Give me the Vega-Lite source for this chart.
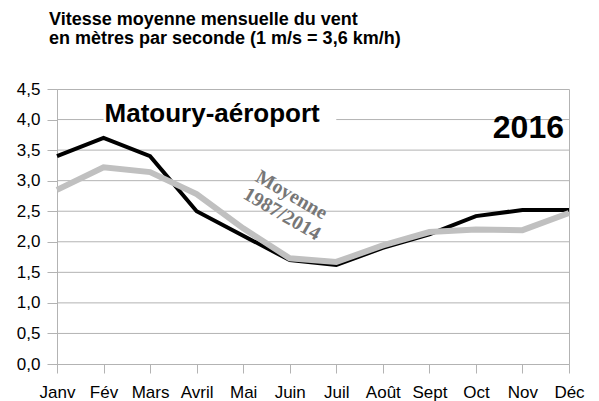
{
  "$schema": "https://vega.github.io/schema/vega-lite/v6.json",
  "width": 512,
  "height": 275,
  "autosize": "none",
  "padding": {"left": 57, "top": 89, "right": 30, "bottom": 37},
  "background": "white",
  "config": {
    "view": {"stroke": "#b3b3b3", "strokeWidth": 1},
    "font": "Liberation Sans",
    "axisX": {
      "labelAngle": 0, "labelFontSize": 17, "labelColor": "black", "labelFont": "Liberation Sans",
      "tickSize": 9, "tickColor": "#b3b3b3", "domainColor": "#b3b3b3", "labelPadding": 11, "grid": false,
      "labelOverlap": false, "title": null
    },
    "axisY": {
      "tickCount": 10,
      "labelOverlap": false,
      "labelExpr": "replace(format(datum.value, '.1f'), '.', ',')",
      "labelFontSize": 17, "labelColor": "black", "labelFont": "Liberation Sans",
      "tickSize": 10, "tickColor": "#b3b3b3", "domainColor": "#b3b3b3", "labelPadding": 7,
      "grid": false, "title": null
    }
  },
  "title": {
    "text": ["Vitesse moyenne mensuelle du vent", "en mètres par seconde (1 m/s = 3,6 km/h)"],
    "anchor": "start", "frame": "group", "dx": -8, "offset": 32,
    "fontSize": 18, "fontWeight": "bold", "font": "Liberation Sans", "color": "black", "lineHeight": 19
  },
  "datasets": {
    "wind": [
      {"mois": "Janv", "serie": "2016", "vitesse": 3.4},
      {"mois": "Fév", "serie": "2016", "vitesse": 3.7},
      {"mois": "Mars", "serie": "2016", "vitesse": 3.4},
      {"mois": "Avril", "serie": "2016", "vitesse": 2.5},
      {"mois": "Mai", "serie": "2016", "vitesse": 2.1},
      {"mois": "Juin", "serie": "2016", "vitesse": 1.7},
      {"mois": "Juil", "serie": "2016", "vitesse": 1.62},
      {"mois": "Août", "serie": "2016", "vitesse": 1.9},
      {"mois": "Sept", "serie": "2016", "vitesse": 2.12},
      {"mois": "Oct", "serie": "2016", "vitesse": 2.42},
      {"mois": "Nov", "serie": "2016", "vitesse": 2.52},
      {"mois": "Déc", "serie": "2016", "vitesse": 2.52},
      {"mois": "Janv", "serie": "Moyenne 1987/2014", "vitesse": 2.85},
      {"mois": "Fév", "serie": "Moyenne 1987/2014", "vitesse": 3.22},
      {"mois": "Mars", "serie": "Moyenne 1987/2014", "vitesse": 3.14},
      {"mois": "Avril", "serie": "Moyenne 1987/2014", "vitesse": 2.78},
      {"mois": "Mai", "serie": "Moyenne 1987/2014", "vitesse": 2.22},
      {"mois": "Juin", "serie": "Moyenne 1987/2014", "vitesse": 1.73},
      {"mois": "Juil", "serie": "Moyenne 1987/2014", "vitesse": 1.67},
      {"mois": "Août", "serie": "Moyenne 1987/2014", "vitesse": 1.94},
      {"mois": "Sept", "serie": "Moyenne 1987/2014", "vitesse": 2.16},
      {"mois": "Oct", "serie": "Moyenne 1987/2014", "vitesse": 2.2},
      {"mois": "Nov", "serie": "Moyenne 1987/2014", "vitesse": 2.19},
      {"mois": "Déc", "serie": "Moyenne 1987/2014", "vitesse": 2.47}
    ],
    "grille": [
      {"niveau": 0.5}, {"niveau": 1}, {"niveau": 1.5}, {"niveau": 2}, {"niveau": 2.5},
      {"niveau": 3}, {"niveau": 3.5}, {"niveau": 4}
    ]
  },
  "layer": [
    {
      "data": {"name": "grille"},
      "mark": {"type": "rule", "color": "#b3b3b3", "strokeWidth": 1},
      "encoding": {
        "x": {"datum": "Janv", "type": "nominal", "title": null},
        "x2": {"datum": "Déc"},
        "y": {"field": "niveau", "type": "quantitative", "title": null,
          "scale": {"domain": [0, 4.5], "nice": false, "zero": true}}
      }
    },
    {
      "data": {"name": "wind"},
      "transform": [{"filter": "datum.serie === '2016'"}],
      "mark": {"type": "line", "color": "black", "strokeWidth": 4, "strokeJoin": "miter"},
      "encoding": {
        "x": {
          "field": "mois", "type": "nominal", "title": null,
          "scale": {"type": "point", "padding": 0, "domain": ["Janv", "Fév", "Mars", "Avril", "Mai", "Juin", "Juil", "Août", "Sept", "Oct", "Nov", "Déc"]}
        },
        "y": {"field": "vitesse", "type": "quantitative", "title": null}
      }
    },
    {
      "data": {"name": "wind"},
      "transform": [{"filter": "datum.serie !== '2016'"}],
      "mark": {"type": "line", "color": "#c0c0c0", "strokeWidth": 6, "strokeJoin": "miter"},
      "encoding": {
        "x": {"field": "mois", "type": "nominal", "title": null},
        "y": {"field": "vitesse", "type": "quantitative", "title": null}
      }
    },
    {
      "data": {"values": [{}]},
      "mark": {"type": "rect", "fill": "white"},
      "encoding": {
        "x": {"datum": "Fév", "type": "nominal", "title": null},
        "x2": {"datum": "Juil"},
        "y": {"datum": 4.3, "type": "quantitative", "title": null},
        "y2": {"datum": 3.88}
      }
    },
    {
      "data": {"values": [{}]},
      "mark": {"type": "text", "font": "Liberation Sans", "fontWeight": "bold", "fontSize": 26, "align": "left", "baseline": "alphabetic", "dx": 1, "color": "black"},
      "encoding": {
        "x": {"datum": "Fév", "type": "nominal", "title": null},
        "y": {"datum": 3.96, "type": "quantitative", "title": null},
        "text": {"value": "Matoury-aéroport"}
      }
    },
    {
      "data": {"values": [{}]},
      "mark": {"type": "text", "font": "Liberation Sans", "fontWeight": "bold", "fontSize": 32, "align": "right", "baseline": "alphabetic", "dx": -5, "color": "black"},
      "encoding": {
        "x": {"datum": "Déc", "type": "nominal", "title": null},
        "y": {"datum": 3.7, "type": "quantitative", "title": null},
        "text": {"value": "2016"}
      }
    },
    {
      "data": {"values": [{}]},
      "mark": {"type": "text", "font": "Liberation Serif", "fontWeight": "bold", "fontSize": 20, "align": "center", "baseline": "middle", "angle": 30, "color": "#777777", "dx": 2},
      "encoding": {
        "x": {"datum": "Juin", "type": "nominal", "title": null},
        "y": {"datum": 2.78, "type": "quantitative", "title": null},
        "text": {"value": "Moyenne"}
      }
    },
    {
      "data": {"values": [{}]},
      "mark": {"type": "text", "font": "Liberation Serif", "fontWeight": "bold", "fontSize": 20, "align": "center", "baseline": "middle", "angle": 30, "color": "#777777", "dx": -9},
      "encoding": {
        "x": {"datum": "Juin", "type": "nominal", "title": null},
        "y": {"datum": 2.38, "type": "quantitative", "title": null},
        "text": {"value": "1987/2014"}
      }
    }
  ]
}
